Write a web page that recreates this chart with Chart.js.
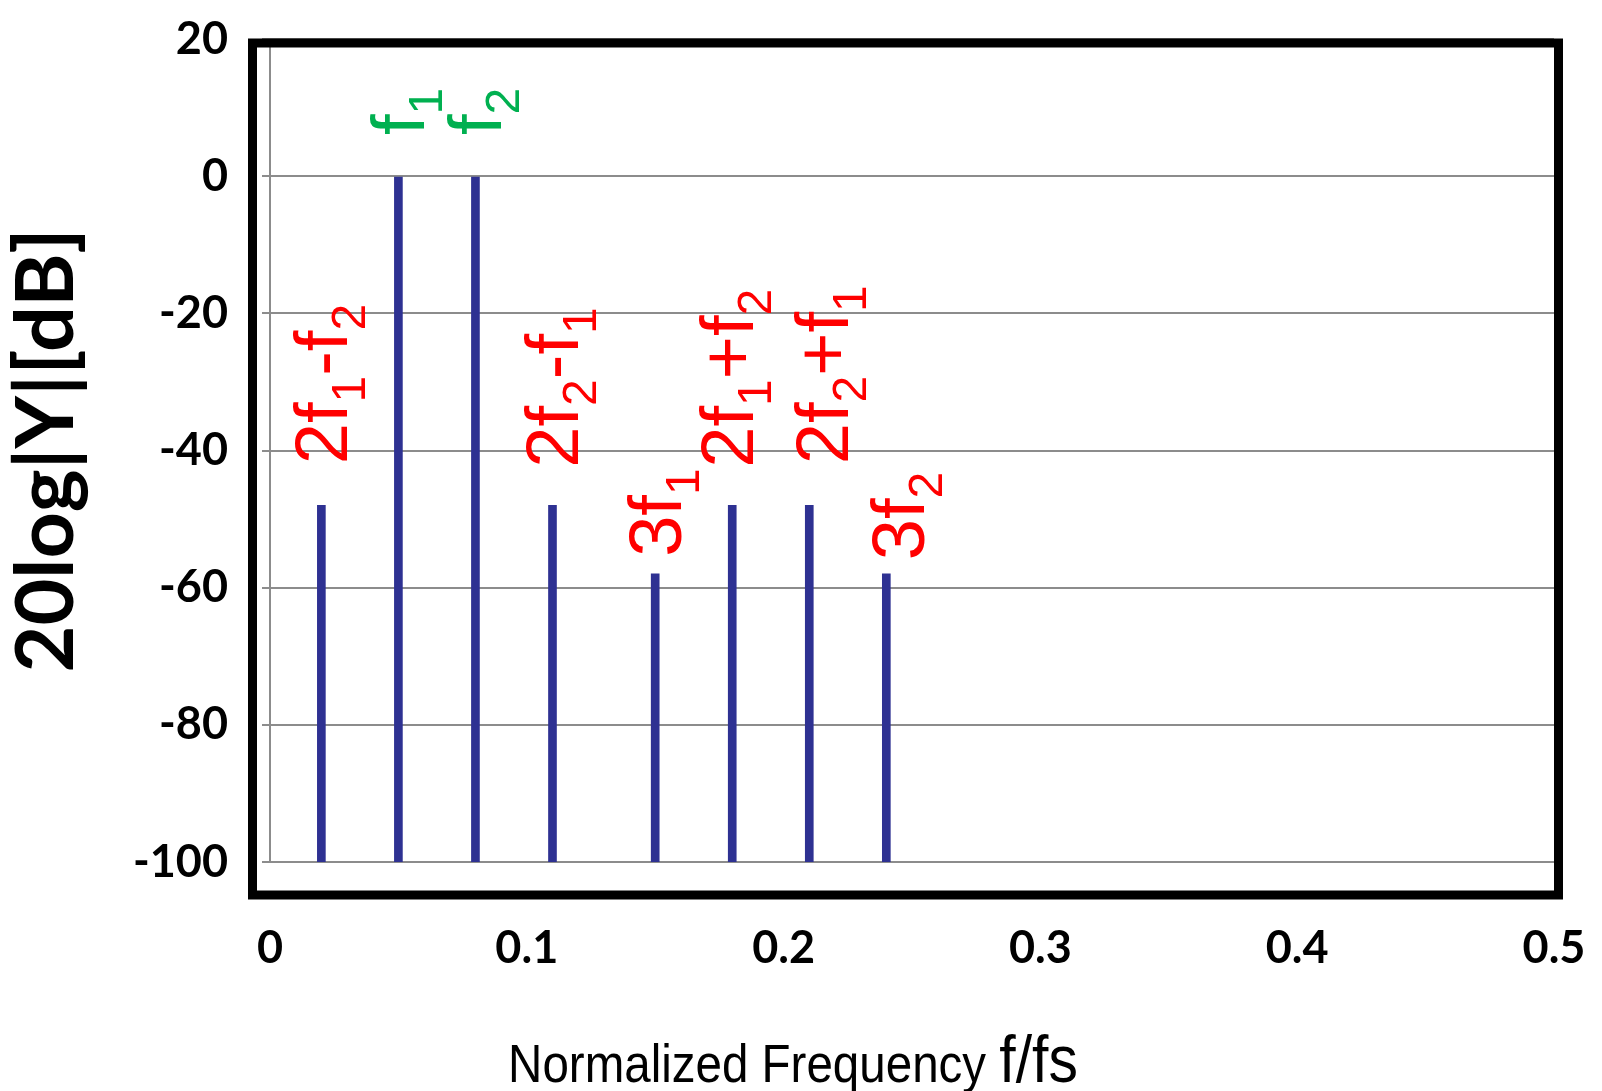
<!DOCTYPE html>
<html>
<head>
<meta charset="utf-8">
<title>Two-tone intermodulation spectrum</title>
<script src="https://cdn.jsdelivr.net/npm/chart.js@4.4.1/dist/chart.umd.min.js"></script>
<style>
  html, body { margin: 0; padding: 0; background: #fff; }
  canvas { display: block; }
</style>
</head>
<body>
<canvas id="spectrum" width="1602" height="1091"></canvas>
<script>
// spectral lines (normalized frequency f/fs, level in dB)
const freqs  = [0.02, 0.05, 0.08, 0.11, 0.15, 0.18, 0.21, 0.24];
const levels = [-48, 0, 0, -48, -58, -48, -48, -58];
const floorDb = -100;

// names of the lines, "_x" = subscript x
const lineNames = ['2f_1-f_2', 'f_1', 'f_2', '2f_2-f_1', '3f_1', '2f_1+f_2', '2f_2+f_1', '3f_2'];
// where each name starts (dB), above its line
const nameDb = [-42, 6, 6, -42.5, -55.5, -42.5, -42, -56];

const xTickValues = [0, 0.1, 0.2, 0.3, 0.4, 0.5];
const yTickValues = [-100, -80, -60, -40, -20, 0, 20];

const gray = '#8c8c8c';
const red = '#ff0000';
const green = '#00b050';
const nameColors = [red, green, green, red, red, red, red, red];
const nameNudge = [0, 0, 0, 0, 0, -5, 13, 12];

const tickFont = { family: 'Lato', weight: 'bold', size: 45 };

function splitSubs(s) {
  const parts = [];
  let i = 0;
  while (i < s.length) {
    if (s[i] === '_') { parts.push({ t: s[i + 1], sub: true }); i += 2; }
    else {
      let j = i;
      while (j < s.length && s[j] !== '_') j++;
      parts.push({ t: s.slice(i, j), sub: false });
      i = j;
    }
  }
  return parts;
}

const lineLabels = {
  id: 'lineLabels',
  afterDatasetsDraw(chart) {
    const { ctx, scales: { x, y } } = chart;
    freqs.forEach((f, i) => {
      const px = x.getPixelForValue(f) + nameNudge[i];
      const py = y.getPixelForValue(nameDb[i]);
      ctx.save();
      ctx.translate(px + 26, py);
      ctx.rotate(-Math.PI / 2);
      ctx.fillStyle = nameColors[i];
      ctx.textBaseline = 'alphabetic';
      ctx.textAlign = 'left';
      let cx = 0;
      splitSubs(lineNames[i]).forEach(p => {
        ctx.font = (p.sub ? '48px' : '74px') + ' "Liberation Sans", Arial, sans-serif';
        ctx.fillText(p.t, cx, p.sub ? 18 : 0);
        cx += ctx.measureText(p.t).width;
      });
      ctx.restore();
    });
  }
};

const frameAndTitle = {
  id: 'frameAndTitle',
  afterDraw(chart) {
    const { ctx, chartArea: a } = chart;
    ctx.save();
    // heavy black frame round the plot
    ctx.strokeStyle = '#000';
    ctx.lineWidth = 9;
    ctx.strokeRect(a.left - 17.5, a.top + 4, (a.right + 4.5) - (a.left - 17.5), (a.bottom + 33) - (a.top + 4));

    // x axis title, "f/fs" set larger
    const part1 = 'Normalized Frequency ';
    const part2 = 'f/fs';
    const sx = 0.88;
    ctx.fillStyle = '#000';
    ctx.textBaseline = 'alphabetic';
    ctx.font = '54px "Liberation Sans", Arial, sans-serif';
    const w1 = ctx.measureText(part1).width;
    ctx.font = '67px "Liberation Sans", Arial, sans-serif';
    const w2 = ctx.measureText(part2).width;
    const cxm = chart.width / 2 - 8;
    const by = chart.height - 9;
    ctx.translate(cxm - (w1 + w2) * sx / 2, by);
    ctx.scale(sx, 1);
    ctx.font = '54px "Liberation Sans", Arial, sans-serif';
    ctx.fillText(part1, 0, 0);
    ctx.font = '67px "Liberation Sans", Arial, sans-serif';
    ctx.fillText(part2, w1, 0);
    ctx.restore();
  }
};

const ctx = document.getElementById('spectrum').getContext('2d');
const spectrumChart = new Chart(ctx, {
  type: 'bar',
  data: {
    datasets: [{
      data: freqs.map((f, i) => ({ x: f, y: [floorDb, levels[i]] })),
      backgroundColor: '#2e3192',
      barThickness: 8,
      borderRadius: { topLeft: 4, topRight: 4 },
      borderSkipped: 'start'
    }]
  },
  options: {
    responsive: false,
    animation: false,
    layout: { padding: { left: 0, top: 39, right: 48, bottom: 0 } },
    plugins: {
      legend: { display: false },
      tooltip: { enabled: false }
    },
    scales: {
      x: {
        type: 'linear',
        offset: false,
        min: 0,
        max: 0.5,
        afterBuildTicks: s => { s.ticks = xTickValues.map(v => ({ value: v })); },
        afterFit: s => { s.height = 1091 - 862; s.paddingLeft = 0; s.paddingRight = 0; },
        grid: { display: false },
        border: { display: true, color: gray, width: 2 },
        ticks: {
          padding: 51,
          color: '#000',
          font: tickFont,
          maxRotation: 0,
          callback: v => String(v)
        }
      },
      y: {
        min: -100,
        max: 20,
        afterBuildTicks: s => { s.ticks = yTickValues.map(v => ({ value: v })); },
        afterFit: s => { s.width = 270; s.paddingTop = 0; s.paddingBottom = 0; },
        grid: { color: gray, lineWidth: 2, tickLength: 8, tickColor: gray },
        border: { display: true, color: gray, width: 2 },
        ticks: {
          padding: 34,
          color: '#000',
          font: tickFont,
          callback: v => String(v)
        },
        title: {
          display: true,
          text: '20log|Y|[dB]',
          color: '#000',
          font: { family: 'Lato', weight: 'bold', size: 81, lineHeight: 1 },
          padding: { top: 6, bottom: 0 }
        }
      }
    }
  },
  plugins: [lineLabels, frameAndTitle]
});
</script>
</body>
</html>
